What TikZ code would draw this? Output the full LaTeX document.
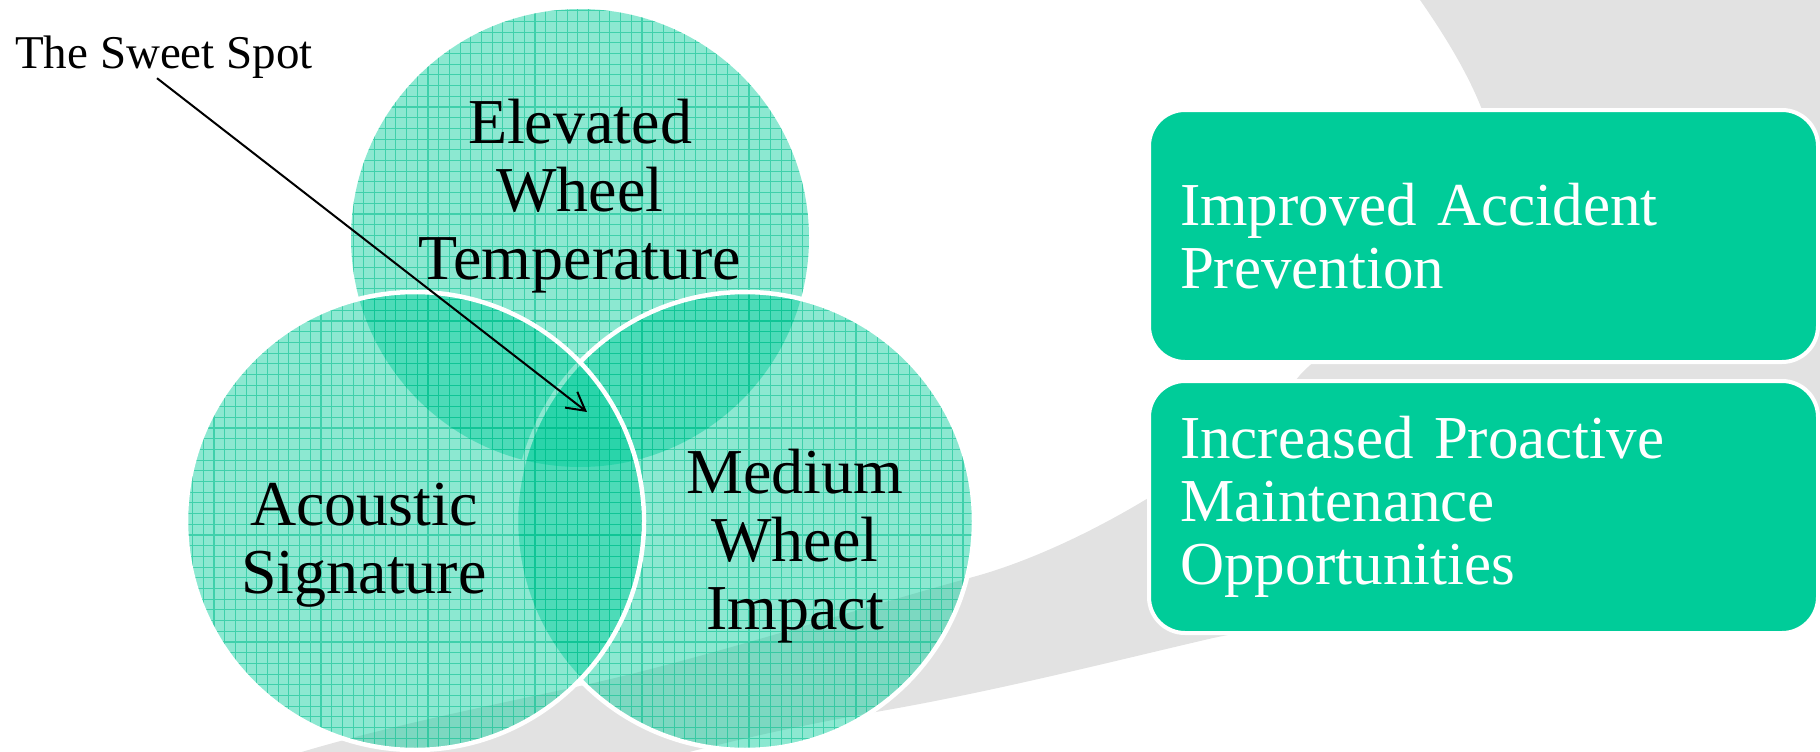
\documentclass[tikz,border=0pt]{standalone}
\usepackage{fontspec}
\setmainfont{Liberation Serif}
\usetikzlibrary{arrows.meta}
\definecolor{teal1}{HTML}{00CC99}
\definecolor{gridc}{HTML}{00BE8C}
\definecolor{bandgray}{HTML}{E2E2E2}
\tikzset{
  venn/.style={fill=teal1, fill opacity=0.45},
  vgrid/.style={draw=gridc, line width=1.1pt, draw opacity=0.55},
  ring/.style={draw=white, line width=4.5pt},
  vlabel/.style={font=\fontsize{64}{68}\selectfont, align=center, inner sep=0pt, text=black},
  boxnode/.style={fill=teal1, draw=white, line width=4pt, rounded corners=36pt, text=white,
    font=\fontsize{61}{63}\selectfont, align=left, text width=607pt, inner xsep=31pt,
    inner ysep=0pt, minimum height=252pt},
  pointer/.style={draw=black, line width=2pt, -{Straight Barb[length=18pt,width=20pt]}},
}
\begin{document}
\begin{tikzpicture}[x=1pt,y=-1pt]
\useasboundingbox (0,0) rectangle (1820,752);
% background swoosh
\fill[bandgray] (1413,-10) -- (1830,-10) -- (1830,500)
  .. controls (1650,550) and (1450,590) .. (1213,638)
  .. controls (1110,662) and (1000,690) .. (887,710)
  .. controls (820,722) and (750,735) .. (640,765)
  -- (260,765)
  .. controls (360,732) and (460,712) .. (580,686)
  .. controls (700,660) and (856,609) .. (973,577)
  .. controls (1090,545) and (1240,450) .. (1300,375)
  .. controls (1350,320) and (1480,290) .. (1495,200)
  .. controls (1505,140) and (1470,70) .. (1413,-10) -- cycle;
% circles
\coordinate (ctop) at (580,238);
\coordinate (cleft) at (415,521);
\coordinate (cright) at (745,521);
\fill[venn] (ctop) circle[radius=229pt];
\begin{scope}
  \clip (ctop) circle[radius=229pt];
  \draw[vgrid] (340,480) grid[step=10.7pt] (820,0);
\end{scope}
\fill[venn] (cright) circle[radius=229pt];
\begin{scope}
  \clip (cright) circle[radius=229pt];
  \draw[vgrid] (505,760) grid[step=10.7pt] (985,280);
\end{scope}
\draw[ring] (cright) circle[radius=229pt];
\fill[venn] (cleft) circle[radius=229pt];
\begin{scope}
  \clip (cleft) circle[radius=229pt];
  \draw[vgrid] (175,760) grid[step=10.7pt] (655,280);
\end{scope}
\draw[ring] (cleft) circle[radius=229pt];
% labels
\node[vlabel] (ltop) at (580,196) {Elevated\\Wheel\\Temperature};
\node[vlabel] (lleft) at (364,545) {Acoustic\\Signature};
\node[vlabel] (lright) at (795,546) {Medium\\Wheel\\Impact};
% sweet spot
\node[font=\fontsize{47}{50}\selectfont, anchor=base west, inner sep=0pt] (sweetlbl) at (15,68) {The Sweet Spot};
\coordinate (sweet) at (587,412);
\draw[pointer] ([xshift=142pt]sweetlbl.south west) -- (sweet);
% boxes
\node[boxnode] (b1) at (1483.5,236) {Improved Accident\\Prevention};
\node[boxnode] (b2) at (1483.5,507) {Increased Proactive\\Maintenance\\Opportunities};
\end{tikzpicture}
\end{document}
